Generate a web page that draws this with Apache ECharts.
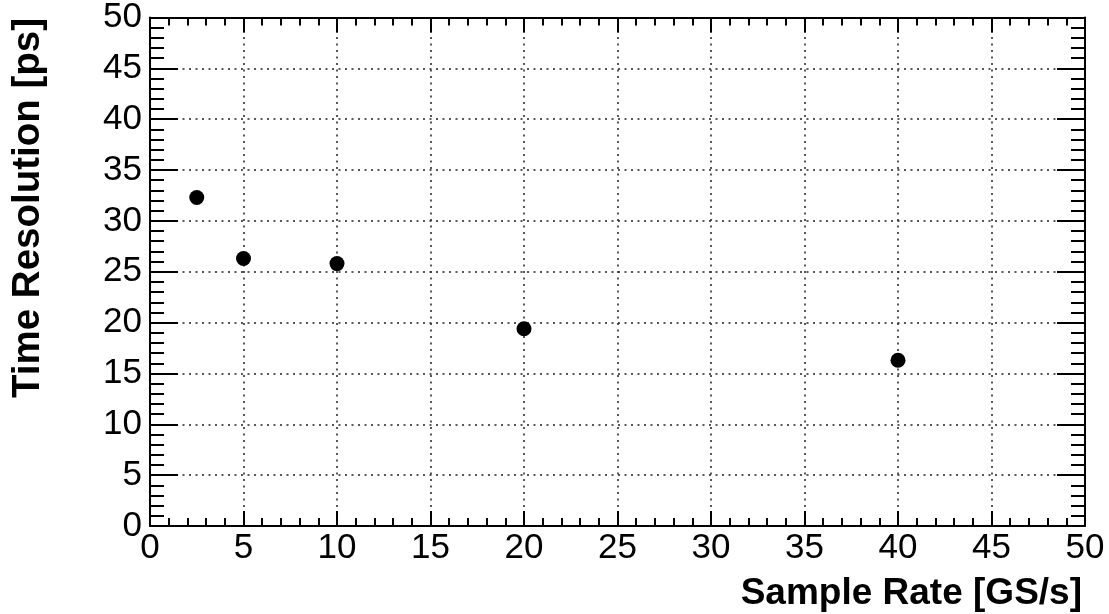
<!DOCTYPE html>
<html>
<head>
<meta charset="utf-8">
<script src="https://cdn.jsdelivr.net/npm/echarts@6/dist/echarts.min.js"></script>
<style>
html,body{margin:0;padding:0;background:#fff;}
#chart{width:1109px;height:614px;}
</style>
</head>
<body>
<div id="chart"></div>
<script>
var sampleRates = [2.5, 5, 10, 20, 40];
var timeResolution = [32.3, 26.3, 25.8, 19.4, 16.3];
var xTitle = 'Sample Rate [GS/s]';
var yTitle = 'Time Resolution [ps]';

var FONT = '"Liberation Sans", Arial, Helvetica, sans-serif';
var chart = echarts.init(document.getElementById('chart'), null, {renderer: 'canvas'});

function axisBase(isX, show, pos) {
  return {
    type: 'value', min: 0, max: 50, interval: 5, position: pos,
    axisLine: {show: true, onZero: false, lineStyle: {color: '#000', width: 2}},
    axisTick: {show: true, inside: true, length: isX ? 15 : 28, lineStyle: {color: '#000', width: 2}},
    minorTick: {show: true, splitNumber: 5, length: isX ? 8 : 14, lineStyle: {color: '#000', width: 2}},
    axisLabel: {show: show, color: '#000', fontFamily: FONT, fontSize: 35, margin: isX ? 5 : 8},
    splitLine: {show: show, lineStyle: {color: '#222', width: 1.5, type: [2, 4.5]}},
    minorSplitLine: {show: false}
  };
}

var xs = [axisBase(true, true, 'bottom'), axisBase(true, false, 'top')];
var ys = [axisBase(false, true, 'left'), axisBase(false, false, 'right')];

chart.setOption({
  backgroundColor: '#fff',
  animation: false,
  grid: {left: 150, right: 24, top: 16, bottom: 88, containLabel: false},
  xAxis: xs,
  yAxis: ys,
  series: [{
    type: 'scatter',
    xAxisIndex: 0, yAxisIndex: 0,
    symbol: 'circle', symbolSize: 15,
    itemStyle: {color: '#000', opacity: 1},
    data: sampleRates.map(function (x, i) { return [x, timeResolution[i]]; })
  }],
  graphic: [
    {type: 'text', x: 1082, y: 594,
     style: {text: xTitle, font: 'bold 37px ' + FONT, fill: '#000', textAlign: 'right', textVerticalAlign: 'middle'}},
    {type: 'text', x: 28, y: 18, rotation: Math.PI / 2,
     style: {text: yTitle, font: 'bold 38.5px ' + FONT, fill: '#000', textAlign: 'right', textVerticalAlign: 'middle'}}
  ]
});
</script>
</body>
</html>
